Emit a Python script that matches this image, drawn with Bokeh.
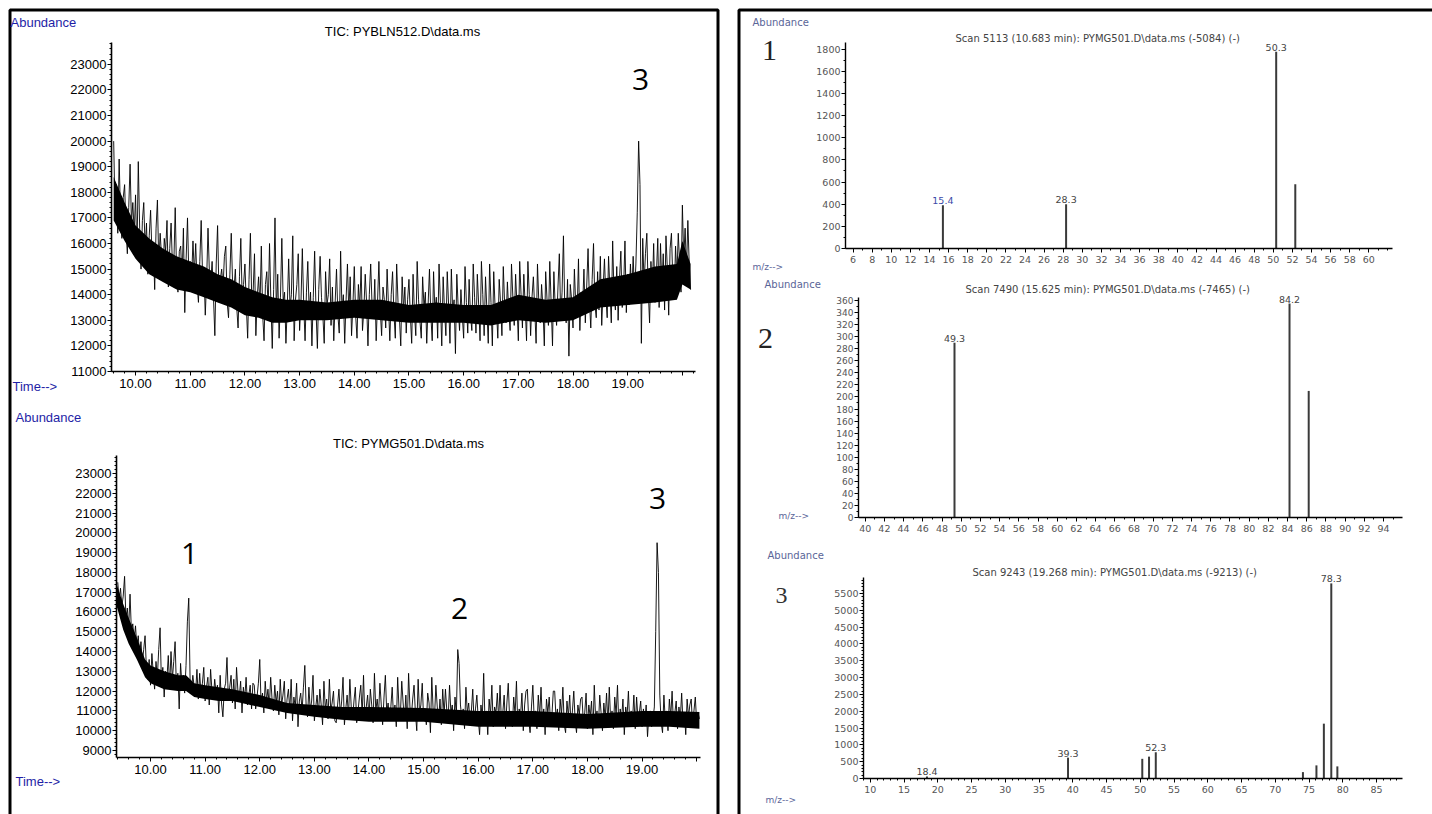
from bokeh.plotting import figure
from bokeh.models import FixedTicker, NumeralTickFormatter, Label, Range1d, LinearAxis
from bokeh.embed import file_html
from bokeh.resources import INLINE
from bokeh.core.properties import value

# ---------------- TIC: PYBLN512.D (blank), one reading every 0.025 min ----------------
blank_t0 = 9.600
tic_step = 0.025
blank_abund = [
    20000, 17200, 18300, 16400, 19300, 17100, 16200, 17800, 18300, 16500, 15600, 17400, 19100, 16800, 17600, 16400, 17900, 15400, 19200, 16600,
    15000, 16900, 17600, 15800, 16800, 14800, 16300, 17300, 15600, 15900, 14200, 16600, 17700, 15200, 16400, 15500, 14600, 16200, 15700, 16900,
    14300, 15800, 16800, 15100, 15200, 17400, 14900, 14100, 15700, 15900, 14600, 16600, 13300, 15400, 17000, 14700, 15300, 14600, 16100, 14800,
    16000, 14400, 13700, 15300, 16900, 14800, 15000, 13200, 14600, 16600, 14900, 14500, 15300, 13900, 12400, 15200, 16700, 14100, 14600, 15000,
    14300, 15500, 15900, 13700, 13100, 14800, 16400, 14400, 14200, 15000, 13500, 12700, 14700, 16200, 13800, 14400, 15200, 13600, 12300, 14600,
    16400, 13800, 14100, 15600, 12400, 13900, 14700, 13500, 15900, 13200, 12200, 14400, 14900, 13400, 16000, 13700, 11900, 14200, 17000, 13300,
    14800, 12300, 13900, 16200, 13700, 14100, 12100, 13600, 15400, 13500, 14000, 16300, 12200, 13800, 14400, 15600, 12600, 13700, 15800, 13600,
    12200, 14100, 15300, 13300, 14100, 12000, 13900, 15700, 13400, 11900, 14200, 15500, 13900, 13200, 12100, 14900, 13600, 14000, 15400, 12800,
    14300, 12200, 13700, 15000, 13200, 12500, 15700, 13400, 14000, 12100, 13800, 15200, 13300, 14700, 12400, 13600, 15100, 13200, 12300, 14400,
    13500, 15100, 12600, 13400, 14800, 13700, 12000, 14000, 15200, 13600, 13100, 14600, 12200, 13700, 15300, 13400, 12400, 14300, 13800, 12700,
    15000, 13600, 12200, 14000, 14900, 13300, 12300, 15200, 13700, 13100, 12000, 14700, 13400, 14300, 12500, 13800, 14600, 13200, 12100, 14800,
    13300, 12400, 15300, 13800, 13000, 12300, 14700, 13500, 14100, 12100, 13600, 15000, 13200, 12200, 14900, 13300, 13900, 12300, 15200, 13700,
    12000, 14700, 13400, 12400, 14900, 13600, 12100, 15000, 13300, 13800, 11700, 14800, 13500, 12600, 14200, 13200, 12300, 15100, 13700, 12500,
    14600, 13200, 12600, 15200, 13900, 12500, 14800, 13600, 12200, 15300, 14000, 12400, 14700, 13400, 12100, 15200, 13700, 12000, 14900, 13500,
    13400, 12300, 14600, 13700, 12400, 15100, 13600, 12900, 14500, 13300, 12600, 15200, 13900, 12800, 14800, 13600, 12200, 15300, 14000, 12700,
    14800, 13600, 12200, 15300, 14000, 12400, 13900, 14700, 13400, 12100, 15200, 13700, 12900, 14400, 13500, 12000, 14900, 13800, 12800, 15300,
    13700, 12000, 14900, 13500, 12800, 14300, 15600, 13100, 14100, 16300, 13400, 12900, 14600, 11600, 14400, 13800, 12700, 15000, 13600, 13200,
    15400, 12600, 14100, 13500, 15000, 12900, 14300, 15800, 13800, 12700, 14600, 16000, 13600, 13100, 14900, 13400, 15500, 12800, 14200, 15400,
    13900, 13100, 15500, 14200, 12900, 16100, 14000, 13400, 15100, 13000, 14600, 15700, 13500, 14200, 16100, 13300, 14800, 13600, 15200, 14000,
    15500, 14000, 15200, 17200, 20000, 18300, 12100, 16200, 14400, 15600, 16400, 14200, 12900, 15300, 14100, 16000, 13700, 14800, 16200, 13500,
    16000, 14300, 15600, 13400, 16300, 15000, 13200, 15800, 16400, 14600, 13800, 15900, 14700, 16400, 15200, 14100, 17500, 15400, 16600, 14900,
    16900, 15200, 14200,
]
blank_core_t = [9.6, 9.8, 10.0, 10.25, 10.5, 10.75, 11.0, 11.25, 11.5, 11.75, 12.0, 12.25,
                12.5, 12.75, 13.0, 13.5, 14.0, 14.5, 15.0, 15.5, 16.0, 16.5, 17.0, 17.5,
                18.0, 18.5, 19.0, 19.5, 19.9, 20.0, 20.15]
blank_core_lo = [16900, 16100, 15400, 14800, 14500, 14200, 14100, 13900, 13700, 13500, 13200, 13100,
                 12900, 12900, 13000, 13000, 13100, 13000, 12900, 12900, 12900, 12800, 13000, 12900,
                 13000, 13500, 13600, 13700, 13800, 14400, 14200]
blank_core_hi = [18600, 17600, 16700, 16200, 15800, 15500, 15300, 15100, 14800, 14600, 14300, 14100,
                 13900, 13800, 13800, 13700, 13800, 13800, 13600, 13700, 13600, 13600, 14000, 13800,
                 13900, 14600, 14800, 15100, 15200, 16100, 15200]

# ---------------- TIC: PYMG501.D (sample), one reading every 0.025 min ----------------
sample_t0 = 9.400
sample_abund = [
    17500, 16600, 17200, 16300, 16800, 17800, 15600, 16200, 15200, 16900, 15000, 15400, 14600, 15300, 14200, 14800, 13800, 14500, 13400, 14100,
    14800, 13100, 12600, 13600, 12300, 13900, 12900, 12100, 13500, 12700, 14100, 15200, 12400, 13200, 11700, 13000, 12600, 13800, 12200, 14000,
    12600, 13500, 14500, 12100, 12900, 11100, 13400, 12300, 12800, 11900, 13300, 15500, 16700, 12500, 12100, 12800, 12200, 11900, 13100, 11600,
    12900, 11800, 12400, 13200, 11500, 12200, 12700, 11300, 13100, 12000, 11600, 12600, 11900, 12300, 10900, 12800, 11400, 10700, 12100, 12400,
    13700, 11600, 12200, 12800, 11400, 12600, 11100, 13200, 12000, 11700, 12500, 10900, 12200, 11600, 12700, 11300, 11800, 12300, 11100, 12400,
    12300, 11100, 11700, 12400, 13600, 11300, 11900, 10900, 12500, 11500, 12100, 11200, 12700, 11600, 11000, 12300, 11400, 12000, 10800, 12600,
    11300, 11800, 12500, 10600, 11600, 12100, 11000, 12600, 10500, 11700, 11200, 12400, 10200, 11500, 11900, 11000, 12200, 13300, 11200, 10700,
    12200, 11000, 11500, 12800, 10500, 11200, 11800, 10800, 12100, 11300, 10300, 12500, 11100, 11600, 10600, 12600, 11000, 11400, 12000, 10500,
    10400, 11300, 12100, 10800, 11500, 12700, 10300, 11100, 11800, 10700, 12600, 11200, 10600, 11500, 12200, 10400, 11000, 11700, 12300, 10800,
    12800, 10500, 11200, 11800, 10600, 12100, 11300, 10400, 12900, 11000, 11600, 10800, 12400, 11300, 10300, 11700, 12800, 10900, 11400, 10600,
    11200, 12200, 10600, 11300, 10200, 12700, 11100, 10800, 12500, 11400, 10500, 11800, 10100, 12900, 11200, 10700, 11600, 12300, 10900, 10000,
    12600, 10900, 11300, 12400, 10600, 11100, 10300, 11900, 11400, 9900, 12700, 11000, 10700, 12300, 11200, 10500, 11600, 10300, 12100, 10800,
    12100, 11000, 10600, 12300, 10900, 11300, 10000, 11700, 10800, 14100, 13400, 11300, 10600, 11100, 10100, 12200, 10900, 11400, 10500, 11000,
    12100, 10300, 11100, 11800, 10600, 9800, 11300, 10700, 12900, 10400, 11000, 9800, 11600, 10800, 12300, 10200, 11200, 10900, 11900, 10500,
    12300, 10400, 10900, 11800, 10100, 11400, 12400, 10600, 11000, 10200, 11700, 10800, 12500, 10300, 11100, 10700, 11900, 10000, 11300, 12000,
    12100, 10500, 9900, 11200, 12300, 10600, 11000, 10100, 11800, 10700, 12200, 10400, 11100, 9800, 11600, 10900, 11700, 10300, 10800, 12000,
    12000, 10600, 11100, 10000, 11600, 10800, 12200, 10300, 9900, 11500, 10700, 11800, 10200, 11000, 12000, 10500, 9900, 11300, 10800, 11600,
    11700, 10400, 10900, 11900, 10100, 11300, 10700, 11500, 9800, 12300, 10600, 11000, 10200, 11800, 10900, 10000, 11400, 10600, 11900, 10300,
    12200, 10500, 11000, 10100, 11700, 10800, 12300, 10200, 11100, 10600, 11600, 9800, 11200, 10700, 12000, 10300, 11000, 10500, 11800, 10100,
    11700, 10600, 10900, 11500, 10200, 11100, 10400, 11300, 9700, 10800, 11000, 10200, 10600, 11200, 15000, 19500, 18000, 11800, 10400, 9900,
    11800, 10500, 11000, 10000, 11600, 10700, 12000, 10300, 10900, 11500, 10100, 11200, 10600, 11900, 10400, 10900, 9800, 11600, 10700, 11300,
    11600, 10200, 11000, 11700, 10400, 10900, 10600,
]
sample_core_t = [9.38, 9.5, 9.6, 9.75, 9.9, 10.0, 10.25, 10.5, 10.65, 10.8, 11.0, 11.25, 11.5,
                 12.0, 12.5, 13.0, 13.5, 14.0, 15.0, 16.0, 17.0, 18.0, 19.0, 19.5, 20.05]
sample_core_lo = [16300, 15100, 14400, 13600, 12700, 12400, 12100, 12000, 12000, 11700, 11600, 11500, 11500,
                  11200, 10900, 10700, 10550, 10450, 10450, 10200, 10200, 10100, 10200, 10200, 10100]
sample_core_hi = [17400, 16400, 15700, 14700, 13600, 13300, 13000, 12800, 12800, 12400, 12300, 12200, 12100,
                  11800, 11400, 11300, 11200, 11200, 11150, 11000, 11000, 10850, 11000, 11000, 10950]

# ---------------- Mass spectra ----------------
s1_mz = [15.4, 28.3, 50.3, 52.3]
s1_ab = [390, 400, 1775, 580]
s1_lab_mz = [15.4, 28.3, 50.3]
s1_lab_ab = [390, 400, 1775]
s1_lab_txt = ["15.4", "28.3", "50.3"]
s1_lab_col = ["#3a4aa8", "#444444", "#444444"]

s2_mz = [49.3, 84.2, 86.2]
s2_ab = [290, 355, 210]
s2_lab_mz = [49.3, 84.2]
s2_lab_ab = [290, 355]
s2_lab_txt = ["49.3", "84.2"]

s3_mz = [18.4, 39.3, 50.3, 51.3, 52.3, 74.1, 76.1, 77.2, 78.3, 79.2]
s3_ab = [60, 620, 585, 650, 780, 190, 390, 1630, 5800, 360]
s3_lab_mz = [18.4, 39.3, 52.3, 78.3]
s3_lab_ab = [60, 620, 780, 5800]
s3_lab_txt = ["18.4", "39.3", "52.3", "78.3"]

BLUE = "#1e1ea6"
GBLUE = "#5a6598"
SANS = "Liberation Sans"
SPEC_FONT = "DejaVu Sans"
W, H = 1432, 814

# page-level canvas in pixel coordinates (y downwards); each chart gets its own ranges
p = figure(width=W, height=H, x_range=Range1d(0, W), y_range=Range1d(H, 0),
           x_axis_location=None, y_axis_location=None, toolbar_location=None,
           output_backend="svg", min_border=0)
p.outline_line_color = None
p.xgrid.visible = False
p.ygrid.visible = False
p.background_fill_color = "white"
p.border_fill_color = "white"

# chart windows: pixel box (left, top, right, bottom) and data limits at those edges
boxes = {
    "A": (111, 42, 695, 371, 9.56, 20.24, 11000, 23852),
    "B": (116, 455, 700, 757, 9.377, 20.07, 8646, 23906),
    "C": (845, 42, 1392, 248, 5.2, 62.48, 0, 1859),
    "D": (858, 297, 1402, 517, 39.3, 95.97, 0, 365),
    "E": (863, 577, 1402, 778, 9.0, 88.85, 0, 5975),
}
xr, yr = {}, {}
for k, (L, T, R, B, x0, x1, y0, y1) in boxes.items():
    dx = (x1 - x0) / (R - L)
    dy = (y1 - y0) / (B - T)
    xr[k] = Range1d(x0 - L * dx, x1 + (W - R) * dx)
    yr[k] = Range1d(y0 - (H - B) * dy, y1 + T * dy)
p.extra_x_ranges = xr
p.extra_y_ranges = yr


def add_axes(k, xt, xminor, yt, yminor, xfmt, font, size, color, lw, xover=None, ysize=None):
    L, T, R, B, x0, x1, y0, y1 = boxes[k]
    xa = LinearAxis(x_range_name=k, fixed_location=B, bounds=(x0, x1),
                    ticker=FixedTicker(ticks=xt, minor_ticks=xminor),
                    formatter=NumeralTickFormatter(format=xfmt))
    ya = LinearAxis(y_range_name=k, fixed_location=L, bounds=(y0, y1),
                    ticker=FixedTicker(ticks=yt, minor_ticks=yminor),
                    formatter=NumeralTickFormatter(format="0"))
    for ax in (xa, ya):
        ax.axis_line_color = "black"
        ax.axis_line_width = lw
        ax.major_tick_line_color = "black"
        ax.minor_tick_line_color = "black"
        ax.major_tick_in = 0
        ax.minor_tick_in = 0
        ax.major_tick_out = 4
        ax.minor_tick_out = 2
        ax.major_label_text_font = font
        ax.major_label_text_font_size = size
        ax.major_label_text_color = color
    ya.major_label_standoff = 1
    xa.major_label_standoff = 3
    if ysize:
        ya.major_label_text_font_size = ysize
    if xover:
        xa.major_label_overrides = xover
    p.add_layout(xa, "below")
    p.add_layout(ya, "left")


def put(x, y, text, size, color, font, align="left"):
    p.add_layout(Label(x=x, y=y, text=text, text_font=font, text_font_size=size,
                       text_color=color, text_align=align, text_baseline="middle"))


# panel frames
p.quad(left=[9.5, 738.5], right=[717.5, 1445], top=[9.5, 9.5], bottom=[830, 830],
       fill_color=None, line_color="black", line_width=3)

# ---------------- chart A: blank TIC ----------------
blank_t = [round(blank_t0 + i * tic_step, 3) for i in range(len(blank_abund))]
p.varea(x=blank_core_t, y1=blank_core_lo, y2=blank_core_hi, color="black", x_range_name="A", y_range_name="A")
p.line(blank_t, blank_abund, color="black", line_width=0.9, x_range_name="A", y_range_name="A")
add_axes("A", list(range(10, 21)), [round(9.6 + 0.2 * i, 2) for i in range(54)],
         list(range(11000, 24000, 1000)), list(range(11000, 23900, 200)), "0.00",
         SANS, "13px", "black", 1.6, xover={20: ""})
put(10, 22, "Abundance", "13px", BLUE, SANS)
put(402, 31, "TIC: PYBLN512.D\\data.ms", "13px", "black", SANS, "center")
put(12, 386, "Time-->", "13px", BLUE, SANS)
put(640, 79, "3", "30px", "black", "Open Sans", "center")

# ---------------- chart B: sample TIC ----------------
sample_t = [round(sample_t0 + i * tic_step, 3) for i in range(len(sample_abund))]
p.varea(x=sample_core_t, y1=sample_core_lo, y2=sample_core_hi, color="black", x_range_name="B", y_range_name="B")
p.line(sample_t, sample_abund, color="black", line_width=0.9, x_range_name="B", y_range_name="B")
add_axes("B", list(range(10, 21)), [round(9.4 + 0.2 * i, 2) for i in range(54)],
         list(range(9000, 24000, 1000)), list(range(8800, 23900, 200)), "0.00",
         SANS, "13px", "black", 1.6, xover={20: ""})
put(15, 417, "Abundance", "13px", BLUE, SANS)
put(408, 443, "TIC: PYMG501.D\\data.ms", "13px", "black", SANS, "center")
put(15, 781, "Time-->", "13px", BLUE, SANS)
put(189, 553, "1", "30px", "black", "Open Sans", "center")
put(459, 608, "2", "30px", "black", "Open Sans", "center")
put(657, 498, "3", "30px", "black", "Open Sans", "center")


def spectrum(k, mz, ab, lmz, lab, ltxt, lcol):
    p.segment(x0=mz, y0=[0] * len(mz), x1=mz, y1=ab, line_color="#3a3a3a", line_width=2,
              x_range_name=k, y_range_name=k)
    p.text(x=lmz, y=lab, text=ltxt, text_color=lcol, text_font=value(SPEC_FONT),
           text_font_size="9.5px", text_align="center", text_baseline="bottom", y_offset=-1,
           x_range_name=k, y_range_name=k)


# ---------------- chart C: spectrum 1 ----------------
spectrum("C", s1_mz, s1_ab, s1_lab_mz, s1_lab_ab, s1_lab_txt, s1_lab_col)
add_axes("C", list(range(6, 61, 2)), list(range(6, 63)),
         list(range(0, 1801, 200)), list(range(0, 1851, 100)), "0",
         SPEC_FONT, "9.5px", "#555555", 1.4)
put(752, 22, "Abundance", "10px", GBLUE, SPEC_FONT)
put(955, 38, "Scan 5113 (10.683 min): PYMG501.D\\data.ms (-5084) (-)", "10px", "#444444", SPEC_FONT)
put(769, 50, "1", "30px", "#222222", "Liberation Serif", "center")
put(752, 266, "m/z-->", "9px", GBLUE, SPEC_FONT)

# ---------------- chart D: spectrum 2 ----------------
spectrum("D", s2_mz, s2_ab, s2_lab_mz, s2_lab_ab, s2_lab_txt, ["#444444"] * len(s2_lab_mz))
add_axes("D", list(range(40, 95, 2)), list(range(40, 96)),
         list(range(0, 361, 20)), list(range(0, 361, 10)), "0",
         SPEC_FONT, "9.5px", "#555555", 1.4, ysize="9px")
put(764, 284, "Abundance", "10px", GBLUE, SPEC_FONT)
put(965, 289, "Scan 7490 (15.625 min): PYMG501.D\\data.ms (-7465) (-)", "10px", "#444444", SPEC_FONT)
put(765, 338, "2", "30px", "#222222", "Liberation Serif", "center")
put(778, 515, "m/z-->", "9px", GBLUE, SPEC_FONT)

# ---------------- chart E: spectrum 3 ----------------
spectrum("E", s3_mz, s3_ab, s3_lab_mz, s3_lab_ab, s3_lab_txt, ["#444444"] * len(s3_lab_mz))
add_axes("E", list(range(10, 86, 5)), list(range(9, 89)),
         list(range(0, 5501, 500)), list(range(0, 5901, 100)), "0",
         SPEC_FONT, "9.5px", "#555555", 1.4)
put(767, 555, "Abundance", "10px", GBLUE, SPEC_FONT)
put(972, 572, "Scan 9243 (19.268 min): PYMG501.D\\data.ms (-9213) (-)", "10px", "#444444", SPEC_FONT)
put(781, 595, "3", "24px", "#333333", "Liberation Serif", "center")
put(765, 799, "m/z-->", "9px", GBLUE, SPEC_FONT)

open("out.html", "w").write(file_html(p, INLINE))
